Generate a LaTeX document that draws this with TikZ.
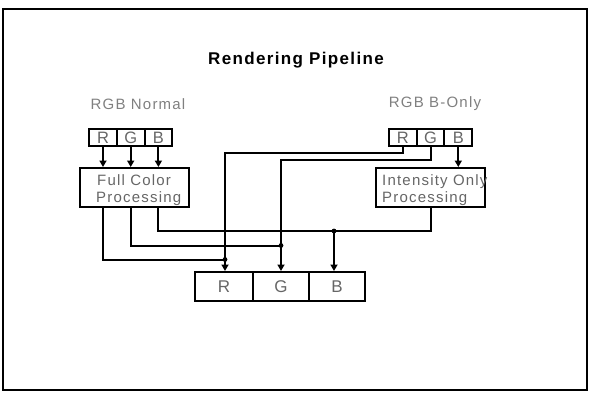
\documentclass[tikz,border=0pt]{standalone}
\usepackage{fontspec}
\setmainfont{Liberation Sans}
\newfontfamily\spacedfont[LetterSpace=8]{Liberation Sans}
\newfontfamily\titlefont[LetterSpace=8]{Liberation Sans}
\usetikzlibrary{arrows.meta}
\tikzset{
  frame/.style={line width=2.2pt},
  cell/.style={draw, line width=2pt, inner sep=0pt, minimum height=17pt, minimum width=27.7pt,
    font=\fontsize{16.5}{16.5}\selectfont, text=black!60},
  outcell/.style={draw, line width=2pt, inner sep=0pt, minimum height=29pt,
    font=\fontsize{17}{17}\selectfont, text=black!60},
  procbox/.style={draw, line width=2pt, inner sep=0pt, minimum width=109pt, minimum height=39pt},
  boxtext/.style={inner sep=0pt, anchor=base west, font=\spacedfont\fontsize{15}{17}\selectfont, text=black!60},
  heading/.style={inner sep=0pt, font=\spacedfont\fontsize{15}{17}\selectfont, text=black!50},
  wire/.style={line width=2pt},
  arr/.style={line width=2pt, -{Triangle[width=7pt,length=6.5pt]}},
  dot/.style={fill=black}
}
\begin{document}
\begin{tikzpicture}[x=1pt,y=-1pt]
\useasboundingbox (0,0) rectangle (591,400);
\draw[frame] (3,9) rectangle (587,390);

\node[font=\titlefont\bfseries\fontsize{17}{20}\selectfont, inner sep=0pt] (title) at (296,60) {Rendering Pipeline};
\node[heading] (hn) at (138,104) {RGB Normal};
\node[heading] (hb) at (435,104) {RGB B-Only};

% input cells
\node[cell] (lR) at (103.0,137.5) {R};
\node[cell] (lG) at (130.7,137.5) {G};
\node[cell] (lB) at (158.4,137.5) {B};
\node[cell] (rR) at (402.9,137.5) {R};
\node[cell] (rG) at (430.6,137.5) {G};
\node[cell] (rB) at (458.3,137.5) {B};

% processing boxes
\node[procbox] (fc) at (134.5,187.5) {};
\node[boxtext] (fc1) at (97,185.5) {Full Color};
\node[boxtext] (fc2) at (96,202.5) {Processing};
\node[procbox] (io) at (430,187.5) {};
\node[boxtext] (io1) at (382,185.5) {Intensity Only};
\node[boxtext] (io2) at (382,202.5) {Processing};

% output cells
\node[outcell, minimum width=58pt] (oR) at (224,286.5) {R};
\node[outcell, minimum width=56pt] (oG) at (281,286.5) {G};
\node[outcell, minimum width=56pt] (oB) at (337,286.5) {B};

% junctions and bends
\coordinate (kR) at (225,153);
\coordinate (kG) at (281,159.5);
\coordinate (jR) at (225,259.5);
\coordinate (jG) at (281,245.5);
\coordinate (jB) at (334,231);

% inputs to processing
\draw[arr] (lR.south) -- (lR.south |- fc.north);
\draw[arr] (lG.south) -- (lG.south |- fc.north);
\draw[arr] (lB.south) -- (lB.south |- fc.north);
\draw[arr] (rB.south) -- (rB.south |- io.north);

% bypass wires from B-Only R and G
\draw[arr] (rR.south) |- (kR) -- (kR |- oR.north);
\draw[arr] (rG.south) |- (kG) -- (kG |- oG.north);

% processing outputs
\draw[wire] (lR.south |- fc.south) |- (jR);
\draw[wire] (lG.south |- fc.south) |- (jG);
\draw[wire] (lB.south |- fc.south) |- (jB) -| (rG.south |- io.south);
\draw[arr] (jB) -- (jB |- oB.north);

\fill[dot] (jR) circle (2.4pt);
\fill[dot] (jG) circle (2.4pt);
\fill[dot] (jB) circle (2.4pt);
\end{tikzpicture}
\end{document}
